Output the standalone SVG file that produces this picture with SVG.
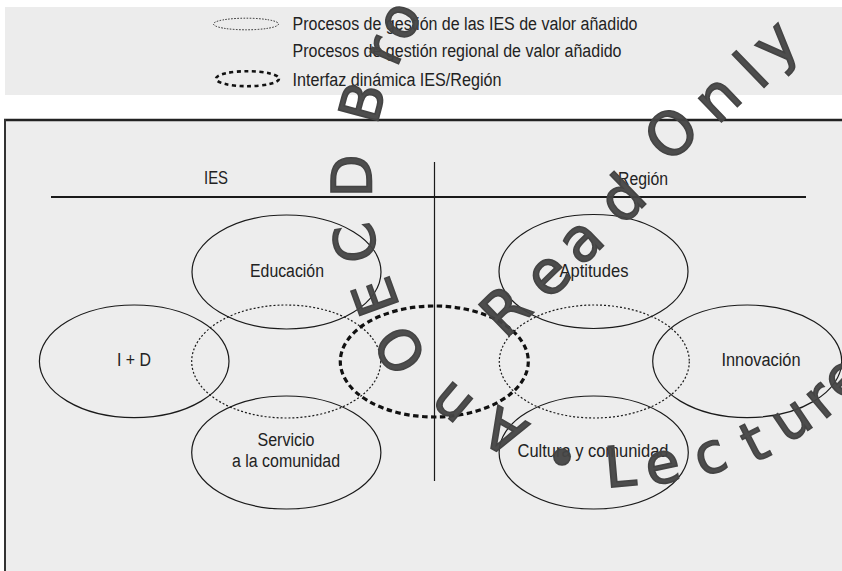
<svg xmlns="http://www.w3.org/2000/svg" width="842" height="571" viewBox="0 0 842 571">
<style>
  .t { font-family: "Liberation Sans", Arial, sans-serif; font-size: 18px; fill: #222; }
  .solid { fill: none; stroke: #1a1a1a; stroke-width: 1.2; }
  .dot { fill: none; stroke: #1a1a1a; stroke-width: 1.2; stroke-dasharray: 2 2; }
  .thick { fill: none; stroke: #111; stroke-width: 3.2; stroke-dasharray: 5.5 3.5; }
  .wm { font-family: "DejaVu Sans", "Liberation Sans", sans-serif; font-size: 56px; fill: #444; stroke: #444; stroke-width: 1.6; }
</style>
<rect x="0" y="0" width="842" height="571" fill="#ffffff"/>
<!-- legend band -->
<g id="legend">
  <rect x="5" y="7" width="837" height="88" fill="#ececec"/>
  <g id="legend-ies">
    <ellipse cx="246" cy="24" rx="32.5" ry="5.8" fill="none" stroke="#222" stroke-width="1" stroke-dasharray="1.5 1.5"/>
    <text class="t" x="292.5" y="29.5" textLength="345" lengthAdjust="spacingAndGlyphs">Procesos de gestión de las IES de valor añadido</text>
  </g>
  <g id="legend-region">
    <text class="t" x="292.5" y="57.3" textLength="329" lengthAdjust="spacingAndGlyphs">Procesos de gestión regional de valor añadido</text>
  </g>
  <g id="legend-interfaz">
    <ellipse cx="247.5" cy="78.7" rx="31.5" ry="7.5" fill="none" stroke="#111" stroke-width="2.6" stroke-dasharray="4 3.5"/>
    <text class="t" x="292.5" y="86" textLength="209" lengthAdjust="spacingAndGlyphs">Interfaz dinámica IES/Región</text>
  </g>
</g>
<!-- main box -->
<rect x="5" y="120" width="840" height="455" fill="#ededed"/>
<line x1="4" y1="120" x2="842" y2="120" stroke="#222" stroke-width="2.4"/>
<line x1="5" y1="119" x2="5" y2="571" stroke="#333" stroke-width="2"/>
<g id="connectors">
  <line x1="51" y1="197" x2="806" y2="197" stroke="#1a1a1a" stroke-width="2"/>
  <line x1="434.5" y1="162" x2="434.5" y2="481" stroke="#1a1a1a" stroke-width="1.2"/>
</g>
<g id="header-ies"><text class="t" x="216" y="184" text-anchor="middle" textLength="24" lengthAdjust="spacingAndGlyphs">IES</text></g>
<g id="header-region"><text class="t" x="643" y="185" text-anchor="middle" textLength="50" lengthAdjust="spacingAndGlyphs">Región</text></g>
<g id="proc-ies"><ellipse class="dot" cx="286.2" cy="361.5" rx="94.5" ry="56.5"/></g>
<g id="proc-region"><ellipse class="dot" cx="594.3" cy="361.5" rx="95" ry="56.5"/></g>
<g id="interfaz"><ellipse class="thick" cx="434.3" cy="361.5" rx="94" ry="55.5"/></g>
<g id="educacion">
  <ellipse class="solid" cx="286.5" cy="272" rx="94.5" ry="57"/>
  <text class="t" x="287" y="277" text-anchor="middle" textLength="74" lengthAdjust="spacingAndGlyphs">Educación</text>
</g>
<g id="aptitudes">
  <ellipse class="solid" cx="593.5" cy="271.5" rx="94.5" ry="57"/>
  <text class="t" x="594" y="277" text-anchor="middle" textLength="69" lengthAdjust="spacingAndGlyphs">Aptitudes</text>
</g>
<g id="id">
  <ellipse class="solid" cx="134.2" cy="361.3" rx="94.8" ry="56.3"/>
  <text class="t" x="134" y="366" text-anchor="middle" textLength="34" lengthAdjust="spacingAndGlyphs">I + D</text>
</g>
<g id="innovacion">
  <ellipse class="solid" cx="747.2" cy="361.3" rx="94.5" ry="56.3"/>
  <text class="t" x="761" y="366" text-anchor="middle" textLength="79" lengthAdjust="spacingAndGlyphs">Innovación</text>
</g>
<g id="servicio">
  <ellipse class="solid" cx="286.3" cy="452.5" rx="94.6" ry="56.5"/>
  <text class="t" x="286" y="446" text-anchor="middle" textLength="57" lengthAdjust="spacingAndGlyphs">Servicio</text>
  <text class="t" x="286" y="466.5" text-anchor="middle" textLength="108" lengthAdjust="spacingAndGlyphs">a la comunidad</text>
</g>
<g id="cultura">
  <ellipse class="solid" cx="593.7" cy="452.5" rx="94.6" ry="56.5"/>
  <text class="t" x="593" y="457" text-anchor="middle" textLength="151" lengthAdjust="spacingAndGlyphs">Cultura y comunidad</text>
</g>
<!-- watermark -->
<g id="watermark" class="wm" text-anchor="middle" fill-opacity="0.95">
  <text transform="translate(504,432) rotate(-150)" dy="0.36em">A</text>
  <text transform="translate(453,402) rotate(-140)" dy="0.27em">n</text>
  <text transform="translate(400,350) rotate(-122)" dy="0.36em">O</text>
  <text transform="translate(375,297) rotate(-110)" dy="0.36em">E</text>
  <text transform="translate(355,243) rotate(-100)" dy="0.36em">C</text>
  <text transform="translate(351,176) rotate(-90)" dy="0.36em">D</text>
  <text transform="translate(362,102) rotate(-75)" dy="0.36em">B</text>
  <text transform="translate(387,52) rotate(-67)" dy="0.27em">r</text>
  <text transform="translate(402,22) rotate(-62)" dy="0.27em">o</text>
  <text transform="translate(505,310) rotate(-44)" dy="0.36em" font-size="60">R</text>
  <text transform="translate(550,277) rotate(-44)" dy="0.27em" font-size="60">e</text>
  <text transform="translate(583,243) rotate(-44)" dy="0.27em" font-size="60">a</text>
  <text transform="translate(621,198) rotate(-44)" dy="0.36em" font-size="60">d</text>
  <text transform="translate(671,133) rotate(-44)" dy="0.36em" font-size="60">O</text>
  <text transform="translate(720,101) rotate(-44)" dy="0.27em" font-size="60">n</text>
  <text transform="translate(751,70) rotate(-44)" dy="0.36em" font-size="60">l</text>
  <text transform="translate(778,46) rotate(-44)" dy="0.27em" font-size="60">y</text>
  <text transform="translate(562,461)" dy="0.3em">•</text>
  <text transform="translate(620,466) rotate(-5)" dy="0.36em">L</text>
  <text transform="translate(663,468) rotate(-12)" dy="0.27em">e</text>
  <text transform="translate(711,458) rotate(-20)" dy="0.27em">c</text>
  <text transform="translate(754,441) rotate(-27)" dy="0.36em">t</text>
  <text transform="translate(793,422) rotate(-34)" dy="0.27em">u</text>
  <text transform="translate(822,402) rotate(-40)" dy="0.27em">r</text>
  <text transform="translate(845,380) rotate(-46)" dy="0.27em">e</text>
</g>
</svg>
